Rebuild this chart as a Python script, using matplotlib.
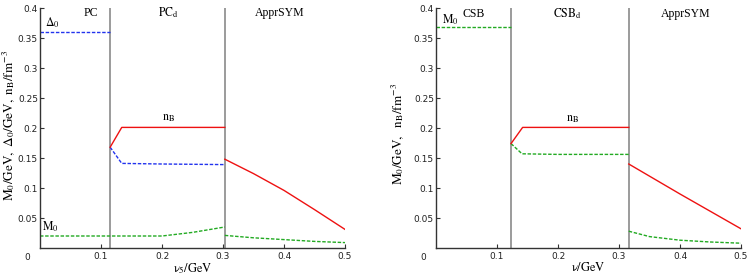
import matplotlib
matplotlib.use("Agg")
import matplotlib.pyplot as plt

plt.rcParams['mathtext.fontset'] = 'stix'
plt.rcParams['font.family'] = 'DejaVu Sans'

# ---------------- Left panel data (nu_5) ----------------
L_phase_bounds = [0.115, 0.303]
L_delta_pc_x = [0.0, 0.115]
L_delta_pc_y = [0.360, 0.360]
L_delta_pcd_x = [0.115, 0.134, 0.2, 0.303]
L_delta_pcd_y = [0.168, 0.141, 0.140, 0.139]
L_nb_pcd_x = [0.115, 0.134, 0.2, 0.303]
L_nb_pcd_y = [0.168, 0.201, 0.201, 0.201]
L_nb_sym_x = [0.303, 0.35, 0.4, 0.45, 0.5]
L_nb_sym_y = [0.148, 0.124, 0.096, 0.064, 0.031]
L_m_low_x = [0.0, 0.115, 0.2, 0.25, 0.303]
L_m_low_y = [0.020, 0.020, 0.020, 0.026, 0.035]
L_m_sym_x = [0.303, 0.35, 0.4, 0.45, 0.5]
L_m_sym_y = [0.021, 0.017, 0.014, 0.011, 0.009]

# ---------------- Right panel data (nu) ----------------
R_phase_bounds = [0.123, 0.316]
R_m_csb_x = [0.0, 0.123]
R_m_csb_y = [0.368, 0.368]
R_m_csbd_x = [0.123, 0.141, 0.2, 0.316]
R_m_csbd_y = [0.174, 0.157, 0.156, 0.156]
R_nb_csbd_x = [0.123, 0.142, 0.2, 0.316]
R_nb_csbd_y = [0.174, 0.201, 0.201, 0.201]
R_nb_sym_x = [0.316, 0.4, 0.5]
R_nb_sym_y = [0.140, 0.090, 0.032]
R_m_sym_x = [0.316, 0.35, 0.4, 0.45, 0.5]
R_m_sym_y = [0.028, 0.019, 0.013, 0.010, 0.008]

xticks = [0.1, 0.2, 0.3, 0.4, 0.5]
xticklabels = ['0.1', '0.2', '0.3', '0.4', '0.5']
yticks = [0.05, 0.1, 0.15, 0.2, 0.25, 0.3, 0.35, 0.4]
yticklabels = ['0.05', '0.1', '0.15', '0.2', '0.25', '0.3', '0.35', '0.4']

RED = '#ee1111'
BLUE = '#2233ee'
GREEN = '#22aa22'
DASH = (0, (2.5, 1.2))

fig = plt.figure(figsize=(7.47, 2.76), dpi=100)
axL = fig.add_axes([40/747, 1-248/276, 305/747, 240/276])
axR = fig.add_axes([436/747, 1-248/276, 305/747, 240/276])

SERIF = 8.5

def style(ax, xlabel, ylabel, ylab_x, ylab_y, ylab_size):
    ax.set_xlim(0, 0.5)
    ax.set_ylim(0, 0.4)
    for s in ['top', 'right']:
        ax.spines[s].set_visible(False)
    for s in ['left', 'bottom']:
        ax.spines[s].set_color('#333333')
        ax.spines[s].set_linewidth(1.0)
    ax.set_xticks(xticks)
    ax.set_xticklabels(xticklabels)
    ax.set_yticks(yticks)
    ax.set_yticklabels(yticklabels)
    ax.tick_params(direction='in', length=3, width=0.8, labelsize=6.5,
                   colors='#333333', labelcolor='#222222')
    ax.tick_params(axis='y', pad=1.5)
    ax.tick_params(axis='x', pad=3)
    ax.set_xlabel(xlabel, fontsize=SERIF + 0.5, labelpad=0)
    ax.set_ylabel(ylabel, fontsize=ylab_size)
    ax.yaxis.set_label_coords(ylab_x, ylab_y)
    ax.text(-0.021, -0.015, '0', fontsize=6.5, color='#222222',
            ha='center', va='center', clip_on=False)

def vlines(ax, xs):
    for x in xs:
        ax.plot([x, x], [0, 0.4], color='#8a8a8a', lw=1.2, zorder=1)

# Left panel
vlines(axL, L_phase_bounds)
axL.plot(L_delta_pc_x, L_delta_pc_y, color=BLUE, lw=1.0, ls=DASH)
axL.plot(L_delta_pcd_x, L_delta_pcd_y, color=BLUE, lw=1.0, ls=DASH)
axL.plot(L_nb_pcd_x, L_nb_pcd_y, color=RED, lw=1.0)
axL.plot(L_nb_sym_x, L_nb_sym_y, color=RED, lw=1.0)
axL.plot(L_m_low_x, L_m_low_y, color=GREEN, lw=1.0, ls=DASH)
axL.plot(L_m_sym_x, L_m_sym_y, color=GREEN, lw=1.0, ls=DASH)
style(axL, r'$\mathrm{\nu_5/GeV}$',
      r'$\mathrm{M_0/GeV,\ \Delta_0/GeV,\ n_B/fm^{-3}}$', -0.077, 0.51, 9.5)
axL.text(0.083, 0.392, 'PC', fontsize=SERIF, ha='center', va='center', family='Liberation Serif')
axL.text(0.21, 0.392, r'$\mathrm{PC_d}$', fontsize=SERIF, ha='center', va='center')
axL.text(0.393, 0.392, 'ApprSYM', fontsize=SERIF, ha='center', va='center', family='Liberation Serif')
axL.text(0.021, 0.375, r'$\Delta_0$', fontsize=SERIF, ha='center', va='center')
axL.text(0.21, 0.217, r'$\mathrm{n_B}$', fontsize=SERIF, ha='center', va='center')
axL.text(0.017, 0.036, r'$\mathrm{M_0}$', fontsize=SERIF, ha='center', va='center')

# Right panel
vlines(axR, R_phase_bounds)
axR.plot(R_m_csb_x, R_m_csb_y, color=GREEN, lw=1.0, ls=DASH)
axR.plot(R_m_csbd_x, R_m_csbd_y, color=GREEN, lw=1.0, ls=DASH)
axR.plot(R_nb_csbd_x, R_nb_csbd_y, color=RED, lw=1.0)
axR.plot(R_nb_sym_x, R_nb_sym_y, color=RED, lw=1.0)
axR.plot(R_m_sym_x, R_m_sym_y, color=GREEN, lw=1.0, ls=DASH)
style(axR, r'$\mathrm{\nu/GeV}$', r'$\mathrm{M_0/GeV,\ \ n_B/fm^{-3}}$', -0.10, 0.475, 9.5)
axR.text(0.061, 0.390, 'CSB', fontsize=SERIF, ha='center', va='center', family='Liberation Serif')
axR.text(0.215, 0.390, r'$\mathrm{CSB_d}$', fontsize=SERIF, ha='center', va='center')
axR.text(0.41, 0.390, 'ApprSYM', fontsize=SERIF, ha='center', va='center', family='Liberation Serif')
axR.text(0.023, 0.381, r'$\mathrm{M_0}$', fontsize=SERIF, ha='center', va='center')
axR.text(0.223, 0.216, r'$\mathrm{n_B}$', fontsize=SERIF, ha='center', va='center')

fig.savefig('out.png', dpi=100)
